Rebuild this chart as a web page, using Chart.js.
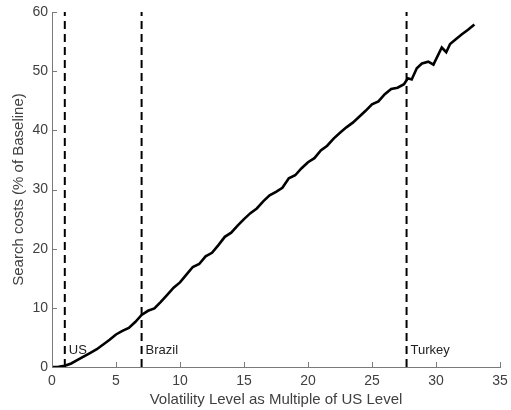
<!DOCTYPE html>
<html>
<head>
<meta charset="utf-8">
<script src="https://cdn.jsdelivr.net/npm/chart.js@4.4.1/dist/chart.umd.min.js"></script>
<style>
  html, body { margin: 0; padding: 0; background: #fff; }
</style>
</head>
<body>
<canvas id="searchCosts" width="511" height="410"></canvas>
<script>
// volatility (multiple of US level) vs search costs (% of baseline)
const volatility = [0, 0.5, 1, 1.5, 2, 2.5, 3, 3.5, 4, 4.5, 5, 5.5, 6, 6.5, 7, 7.5, 8, 8.5, 9, 9.5,
    10, 10.5, 11, 11.5, 12, 12.5, 13, 13.5, 14, 14.5, 15, 15.5, 16, 16.5, 17, 17.5, 18, 18.5, 19, 19.5,
    20, 20.5, 21, 21.5, 22, 22.5, 23, 23.5, 24, 24.5, 25, 25.5, 26, 26.5, 27, 27.5, 27.8, 28.1, 28.5, 28.9,
    29.4, 29.8, 30.45, 30.8, 31.1, 31.5, 32, 32.5, 33];
const searchCost = [0, 0.03, 0.2, 0.6, 1.2, 1.8, 2.4, 3.0, 3.8, 4.6, 5.5, 6.1, 6.6, 7.6, 8.8, 9.5, 9.9, 11.0, 12.2, 13.4,
    14.3, 15.6, 16.9, 17.4, 18.7, 19.3, 20.6, 22.0, 22.7, 23.9, 25.0, 26.0, 26.8, 28.0, 29.0, 29.6, 30.3, 31.9, 32.4, 33.6,
    34.6, 35.3, 36.6, 37.4, 38.6, 39.6, 40.5, 41.3, 42.3, 43.3, 44.4, 44.9, 46.1, 47.0, 47.2, 47.8, 48.8, 48.6, 50.5, 51.3,
    51.6, 51.1, 54.0, 53.2, 54.6, 55.3, 56.2, 57.0, 57.9];

// reference countries
const countryNames = ['US', 'Brazil', 'Turkey'];
const countryLevels = [1, 7, 27.7];

const xMin = 0, xMax = 35, xStep = 5;
const yMin = 0, yMax = 60, yStep = 10;

const textColor = '#404040';
const axisColor = '#7a7a7a';

const refSets = countryLevels.map((v, i) => ({
    label: countryNames[i],
    data: [{x: v, y: yMin}, {x: v, y: yMax}],
    borderColor: '#000',
    borderWidth: 2,
    borderDash: [8, 5],
    pointRadius: 0,
    clip: false,
    order: 2
}));

// inward tick marks + country names
const extras = {
    id: 'extras',
    afterDraw(chart) {
        const {ctx, chartArea, scales} = chart;
        const tl = 5;
        ctx.save();
        ctx.strokeStyle = axisColor;
        ctx.lineWidth = 1;
        ctx.beginPath();
        scales.x.ticks.forEach(t => {
            const px = Math.round(scales.x.getPixelForValue(t.value)) + 0.5;
            ctx.moveTo(px, chartArea.bottom);
            ctx.lineTo(px, chartArea.bottom - tl);
        });
        scales.y.ticks.forEach(t => {
            const py = Math.round(scales.y.getPixelForValue(t.value)) + 0.5;
            ctx.moveTo(chartArea.left, py);
            ctx.lineTo(chartArea.left + tl, py);
        });
        ctx.stroke();

        ctx.fillStyle = '#222';
        ctx.font = '13px "Liberation Sans", Arial, sans-serif';
        ctx.textBaseline = 'middle';
        ctx.textAlign = 'left';
        countryLevels.forEach((v, i) => {
            ctx.fillText(countryNames[i], scales.x.getPixelForValue(v) + 4, chartArea.bottom - 17);
        });
        ctx.restore();
    }
};

new Chart(document.getElementById('searchCosts'), {
    type: 'line',
    data: {
        datasets: [{
            label: 'Search costs',
            data: volatility.map((v, i) => ({x: v, y: searchCost[i]})),
            borderColor: '#000',
            borderWidth: 2.6,
            pointRadius: 0,
            tension: 0,
            order: 1
        }, ...refSets]
    },
    options: {
        responsive: false,
        animation: false,
        events: [],
        layout: {
            padding: {top: 12, right: 11, left: 0, bottom: 0}
        },
        plugins: {
            legend: {display: false},
            tooltip: {enabled: false}
        },
        scales: {
            x: {
                type: 'linear',
                min: xMin,
                max: xMax,
                afterFit: s => { s.height = 43; s.paddingLeft = 0; s.paddingRight = 0; },
                ticks: {
                    stepSize: xStep,
                    color: textColor,
                    padding: 6,
                    maxRotation: 0,
                    font: {family: '"Liberation Sans", Arial, sans-serif', size: 14}
                },
                grid: {drawOnChartArea: false, drawTicks: false},
                border: {color: axisColor, width: 1},
                title: {
                    display: true,
                    text: 'Volatility Level as Multiple of US Level',
                    color: textColor,
                    padding: {top: 0, bottom: 1},
                    font: {family: '"Liberation Sans", Arial, sans-serif', size: 15}
                }
            },
            y: {
                min: yMin,
                max: yMax,
                afterFit: s => { s.width = 52; s.paddingTop = 0; s.paddingBottom = 0; },
                ticks: {
                    stepSize: yStep,
                    color: textColor,
                    padding: 4,
                    font: {family: '"Liberation Sans", Arial, sans-serif', size: 14}
                },
                grid: {drawOnChartArea: false, drawTicks: false},
                border: {color: axisColor, width: 1},
                title: {
                    display: true,
                    text: 'Search costs (% of Baseline)',
                    color: textColor,
                    padding: {top: 10, bottom: 0},
                    font: {family: '"Liberation Sans", Arial, sans-serif', size: 15}
                }
            }
        }
    },
    plugins: [extras]
});
</script>
</body>
</html>
